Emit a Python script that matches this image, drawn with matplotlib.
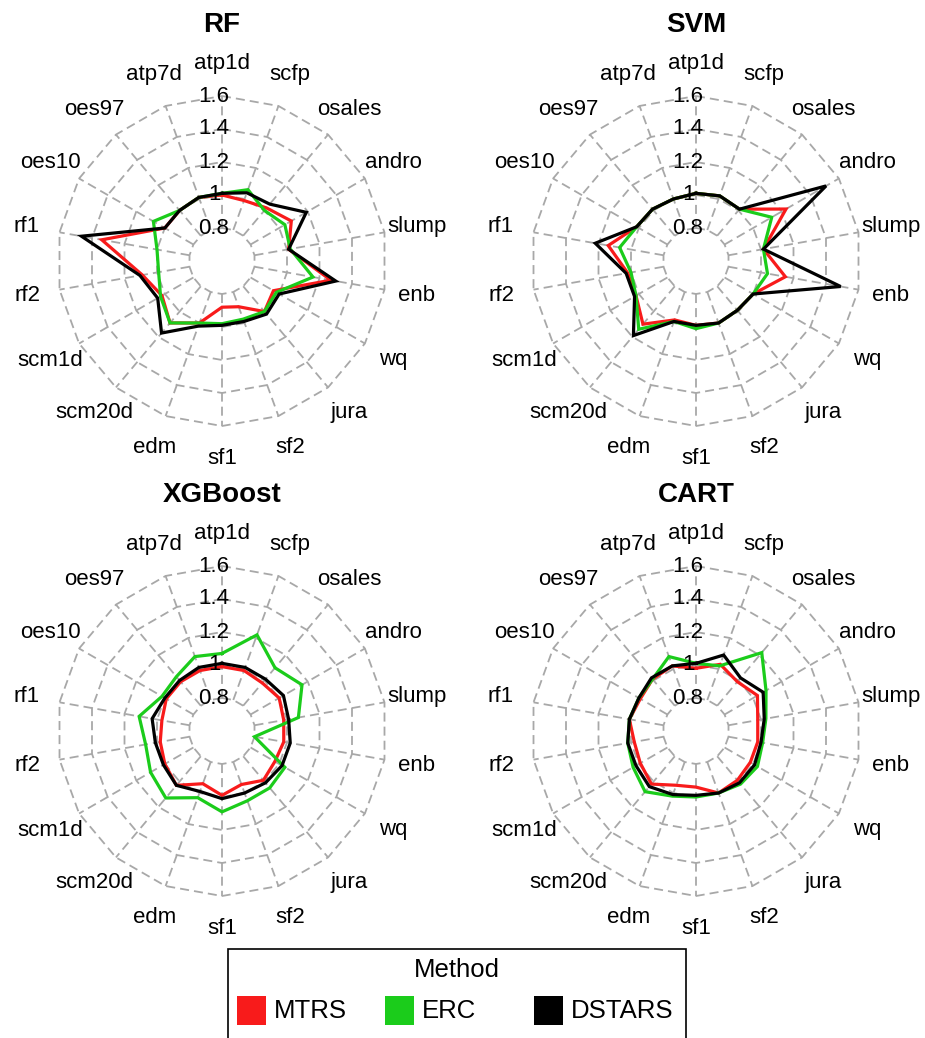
import numpy as np
import matplotlib
matplotlib.use('Agg')
import matplotlib.pyplot as plt
from matplotlib.patches import Rectangle

plt.rcParams['font.family'] = ['Liberation Sans', 'DejaVu Sans']

categories = ['atp1d', 'scfp', 'osales', 'andro', 'slump', 'enb', 'wq', 'jura', 'sf2',
              'sf1', 'edm', 'scm20d', 'scm1d', 'rf2', 'rf1', 'oes10', 'oes97', 'atp7d']
methods = ['MTRS', 'ERC', 'DSTARS']
method_colors = ['#F81B1B', '#1BCC1B', '#000000']
rticks = [0.8, 1.0, 1.2, 1.4, 1.6]
rtick_labels = ['0.8', '1', '1.2', '1.4', '1.6']
panels = ['RF', 'SVM', 'XGBoost', 'CART']

rf_mtrs = [1.00, 0.99, 1.02, 1.085, 1.01, 1.27, 0.96, 1.00, 0.895, 0.88, 1.00, 1.09, 1.02, 1.09, 1.34, 1.00, 1.00, 1.01]
rf_erc = [1.01, 1.06, 1.00, 1.04, 1.02, 1.16, 0.98, 1.00, 0.975, 0.98, 1.00, 1.09, 1.03, 0.99, 1.00, 1.08, 1.00, 1.01]
rf_dstars = [1.01, 1.04, 1.05, 1.19, 1.01, 1.30, 1.00, 1.02, 0.99, 0.99, 1.02, 1.17, 1.05, 1.105, 1.465, 1.00, 1.00, 1.01]

svm_mtrs = [1.01, 1.02, 1.01, 1.23, 1.015, 1.15, 1.00, 0.99, 1.00, 0.99, 0.98, 1.10, 1.02, 1.02, 1.14, 1.015, 1.01, 1.00]
svm_erc = [1.01, 1.02, 1.01, 1.13, 1.015, 1.04, 1.00, 0.99, 1.00, 1.01, 0.99, 1.14, 1.02, 1.00, 1.07, 1.015, 1.01, 1.00]
svm_dstars = [1.01, 1.02, 1.01, 1.51, 1.015, 1.49, 1.00, 0.99, 1.00, 0.99, 0.99, 1.19, 1.03, 1.03, 1.22, 1.015, 1.01, 1.00]

xgb_mtrs = [0.99, 0.99, 0.98, 1.00, 0.98, 0.98, 0.97, 0.99, 0.945, 0.99, 0.94, 1.03, 1.00, 0.98, 0.97, 0.99, 0.99, 0.99]
xgb_erc = [1.07, 1.22, 1.10, 1.16, 1.07, 0.80, 1.04, 1.05, 1.05, 1.09, 1.03, 1.13, 1.10, 1.07, 1.11, 1.02, 1.03, 1.08]
xgb_dstars = [1.01, 1.01, 1.01, 1.03, 1.01, 1.02, 1.02, 1.01, 1.00, 1.01, 0.99, 1.03, 1.01, 1.01, 1.03, 1.00, 1.00, 1.01]

cart_mtrs = [0.98, 1.03, 0.99, 1.03, 0.98, 0.98, 0.98, 0.99, 1.00, 0.94, 0.95, 1.02, 0.99, 0.98, 1.01, 0.99, 1.01, 1.02]
cart_erc = [1.01, 1.02, 1.22, 1.09, 1.03, 1.01, 1.03, 1.02, 1.00, 1.00, 1.02, 1.08, 1.04, 1.02, 1.01, 1.00, 1.01, 1.08]
cart_dstars = [1.01, 1.09, 1.02, 1.07, 1.02, 1.00, 1.01, 1.01, 1.00, 0.99, 1.01, 1.04, 1.02, 1.02, 1.01, 1.00, 1.02, 1.02]

panel_data = {
    'RF': [rf_mtrs, rf_erc, rf_dstars],
    'SVM': [svm_mtrs, svm_erc, svm_dstars],
    'XGBoost': [xgb_mtrs, xgb_erc, xgb_dstars],
    'CART': [cart_mtrs, cart_erc, cart_dstars],
}

W, H = 925, 1038
fig = plt.figure(figsize=(W / 100, H / 100), dpi=100)

# panel centres (pixels from top-left) and radius in pixels
centres = {'RF': (222, 261), 'SVM': (696, 261), 'XGBoost': (222, 731), 'CART': (696, 731)}
R = 165
rmin, rmax = 0.6, 1.6

n = len(categories)
theta = np.arange(n) * 2 * np.pi / n
theta_c = np.append(theta, theta[0])
grid_col = '#A8A8A8'

for name in panels:
    cx, cy = centres[name]
    ax = fig.add_axes([(cx - R) / W, (H - cy - R) / H, 2 * R / W, 2 * R / H], projection='polar')
    ax.set_theta_zero_location('N')
    ax.set_theta_direction(-1)
    ax.set_ylim(rmin, rmax)
    ax.grid(False)
    ax.set_xticks([])
    ax.set_yticks([])
    ax.spines['polar'].set_visible(False)
    ax.patch.set_visible(False)

    # polygonal dashed rings
    for v in rticks:
        ax.plot(theta_c, [v] * (n + 1), color=grid_col, lw=1.3, dashes=(5, 2.8), zorder=1, clip_on=False)
    # dashed spokes
    for t in theta:
        ax.plot([t, t], [rticks[0], rticks[-1]], color=grid_col, lw=1.3, dashes=(5, 2.8), zorder=1, clip_on=False)

    # data
    for vals, col in zip(panel_data[name], method_colors):
        v = np.append(vals, vals[0])
        ax.plot(theta_c, v, color=col, lw=2.3, solid_joinstyle='miter', zorder=3, clip_on=False)

    # radial tick labels
    for v, lab in zip(rticks, rtick_labels):
        ax.annotate(lab, xy=(0, v), xytext=(-8, 0), textcoords='offset pixels',
                    ha='center', va='center', fontsize=16, zorder=4, annotation_clip=False)

    # category labels
    for t, lab in zip(theta, categories):
        ax.text(t, rmin + 1.2 * (rmax - rmin), lab, ha='center', va='center',
                fontsize=16, clip_on=False)

    fig.text(cx / W, 1 - (cy - 236) / H, name, ha='center', va='center', fontsize=20, fontweight='bold')

# legend box
box_top = 1 - 949 / H
fig.patches.append(Rectangle((228 / W, -0.01), (686 - 228) / W, box_top + 0.01,
                             transform=fig.transFigure, fill=False, edgecolor='black', lw=1.2))
fig.text(457 / W, 1 - 970 / H, 'Method', ha='center', va='center', fontsize=18.5)
sq_x = [237, 385, 534]
for x0, col, lab in zip(sq_x, method_colors, methods):
    fig.patches.append(Rectangle((x0 / W, 1 - 1025 / H), 29 / W, 29 / H,
                                 transform=fig.transFigure, facecolor=col, edgecolor='none'))
    fig.text((x0 + 37) / W, 1 - 1011 / H, lab, ha='left', va='center', fontsize=18.5)

fig.savefig('out.png', dpi=100)
